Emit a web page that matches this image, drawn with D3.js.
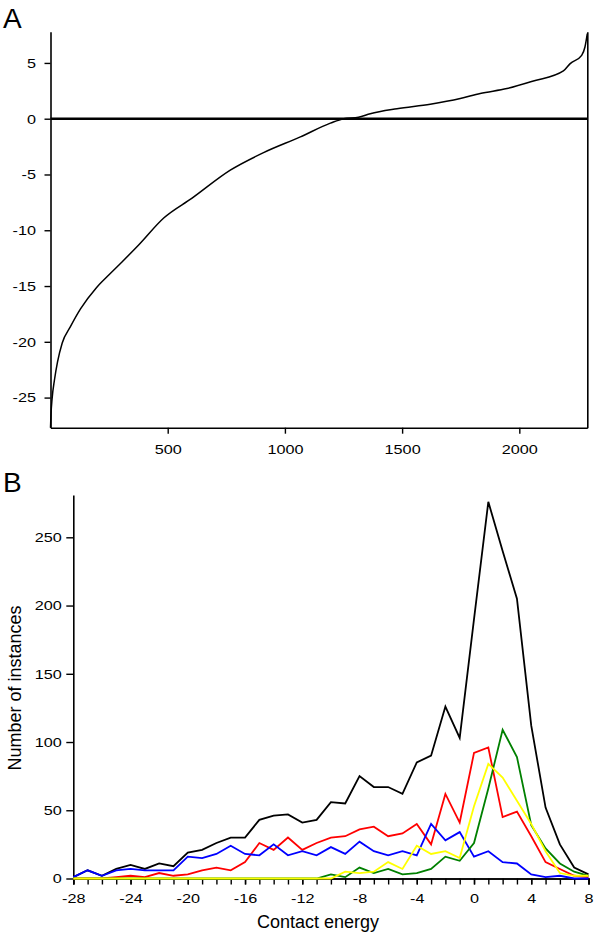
<!DOCTYPE html>
<html>
<head>
<meta charset="utf-8">
<script src="https://cdn.jsdelivr.net/npm/d3@7"></script>
<style>
  body { margin: 0; background: #fff; }
  svg { font-family: "Liberation Sans", Arial, sans-serif; display: block; }
</style>
</head>
<body>
<div id="chart"></div>
<script>

// panel A: sorted contact energies (rank, value)
const rankA = [0, 2, 7, 17, 30, 50, 85, 128, 195, 242, 306, 376, 483, 604, 767, 909, 1066, 1194, 1250, 1314, 1364, 1478, 1620, 1748, 1833, 1947, 2060, 2188, 2217, 2266, 2280, 2290]
const valueA = [-27.7, -26.55, -25.05, -23.4, -21.8, -20.1, -18.64, -17.05, -15.17, -14.15, -12.82, -11.32, -8.9, -7.12, -4.61, -3.04, -1.63, -0.4, 0, 0.13, 0.45, 0.9, 1.3, 1.81, 2.26, 2.7, 3.38, 4.28, 4.94, 5.68, 6.43, 7.63]
const ticksAX = [500, 1000, 1500, 2000]
const ticksAY = [-25, -20, -15, -10, -5, 0, 5]

// panel B: histograms of contact energy
const energy = [-28, -27, -26, -25, -24, -23, -22, -21, -20, -19, -18, -17, -16, -15, -14, -13, -12, -11, -10, -9, -8, -7, -6, -5, -4, -3, -2, -1, 0, 1, 2, 3, 4, 5, 6, 7, 8]
const black = [1, 6, 2, 7, 10, 7, 11, 9, 19, 21, 26, 30, 30, 43, 46, 47, 41, 43, 56, 55, 75, 67, 67, 62, 85, 90, 126, 103, 190, 276, 240, 205, 112, 52, 25, 8, 3]
const red = [0, 0, 0, 1, 2, 1, 4, 2, 3, 6, 8, 6, 12, 26, 21, 30, 21, 26, 30, 31, 36, 38, 31, 33, 40, 25, 62, 41, 92, 96, 45, 49, 31, 12, 7, 2, 1]
const blue = [1, 6, 2, 6, 7, 6, 6, 6, 16, 15, 18, 24, 18, 17, 25, 17, 20, 17, 23, 18, 27, 20, 17, 20, 17, 40, 28, 34, 16, 20, 12, 11, 3, 1, 2, 0, 0]
const green = [0, 0, 0, 0, 0, 0, 0, 0, 0, 0, 0, 0, 0, 0, 0, 0, 0, 0, 3, 1, 8, 4, 7, 3, 4, 7, 16, 13, 26, 66, 109, 89, 39, 22, 11, 5, 2]
const yellow = [0, 0, 0, 0, 0, 0, 0, 0, 0, 0, 0, 0, 0, 0, 0, 0, 0, 0, 0, 5, 4, 5, 12, 7, 24, 18, 20, 15, 53, 84, 74, 57, 40, 20, 4, 2, 2]
const ticksBX = [-28, -24, -20, -16, -12, -8, -4, 0, 4, 8]
const ticksBY = [0, 50, 100, 150, 200, 250]

const series = [
  {values: black, color: '#000000'},
  {values: red, color: '#ff0000'},
  {values: blue, color: '#0000ff'},
  {values: green, color: '#008000'},
  {values: yellow, color: '#ffff00'}
]

let svg = d3.select('#chart').append('svg')
  .attr('width', 600)
  .attr('height', 940)

svg.append('rect').attr('width', 600).attr('height', 940).attr('fill', '#fff')

// plain hyphen minus, no thousands comma
const plain = d => String(d)

// tick labels in the original are a bit wide, so stretch them sideways
function styleAxis(g) {
  g.select('.domain').attr('stroke-width', 1.6)
  g.selectAll('.tick line').attr('stroke-width', 1.4)
  g.selectAll('.tick text')
    .attr('font-size', 13.5)
    .attr('fill', '#000')
    .attr('font-family', '"Liberation Sans", Arial, sans-serif')
    .each(function() {
      let w = this.getComputedTextLength()
      if (w > 0) d3.select(this).attr('textLength', w * 1.2).attr('lengthAdjust', 'spacingAndGlyphs')
    })
}

// ---------- panel A ----------
let xA = d3.scaleLinear().domain([0, 2290]).range([50.5, 587.3])
let yA = d3.scaleLinear().domain([-27.7, 7.8]).range([427.7, 31.7])

svg.append('g')
  .attr('transform', 'translate(0,427.7)')
  .call(d3.axisBottom(xA).tickValues(ticksAX).tickFormat(plain).tickSize(6).tickSizeOuter(0).tickPadding(10.7))
  .call(styleAxis)

svg.append('g')
  .attr('transform', 'translate(50.5,0)')
  .call(d3.axisLeft(yA).tickValues(ticksAY).tickFormat(plain).tickSize(6).tickSizeOuter(0).tickPadding(8.5))
  .call(styleAxis)

svg.append('g')
  .attr('transform', 'translate(587.3,0)')
  .call(d3.axisRight(yA).tickValues([]).tickSizeOuter(0))
  .call(styleAxis)

// zero line
svg.append('line')
  .attr('x1', xA(0)).attr('x2', xA(2290))
  .attr('y1', yA(0)).attr('y2', yA(0))
  .attr('stroke', '#000').attr('stroke-width', 2.6)

let lineA = d3.line()
  .x((d, i) => xA(rankA[i]))
  .y(d => yA(d))
  .curve(d3.curveMonotoneX)

svg.append('path')
  .datum(valueA)
  .attr('d', lineA)
  .attr('fill', 'none')
  .attr('stroke', '#000')
  .attr('stroke-width', 1.5)

svg.append('text').text('A')
  .attr('x', 3).attr('y', 28)
  .attr('font-size', 28)

// ---------- panel B ----------
let xB = d3.scaleLinear().domain([-28, 8]).range([73.3, 588.5])
let yB = d3.scaleLinear().domain([0, 281]).range([878.5, 495])

// minor ticks on every integer
svg.append('g')
  .attr('transform', 'translate(0,878.5)')
  .call(d3.axisBottom(xB).tickValues(energy).tickSize(6).tickFormat(''))
  .call(styleAxis)

svg.append('g')
  .attr('transform', 'translate(0,878.5)')
  .call(d3.axisBottom(xB).tickValues(ticksBX).tickFormat(plain).tickSize(6).tickSizeOuter(0).tickPadding(9.2))
  .call(styleAxis)

svg.append('g')
  .attr('transform', 'translate(73.3,0)')
  .call(d3.axisLeft(yB).tickValues(ticksBY).tickFormat(plain).tickSize(7).tickSizeOuter(0).tickPadding(4.6))
  .call(styleAxis)

let lineB = d3.line()
  .x((d, i) => xB(energy[i]))
  .y(d => yB(d))

svg.selectAll('path.series')
  .data(series)
  .enter()
  .append('path')
  .attr('class', 'series')
  .attr('d', d => lineB(d.values))
  .attr('fill', 'none')
  .attr('stroke', d => d.color)
  .attr('stroke-width', 1.8)

svg.append('text').text('B')
  .attr('x', 3).attr('y', 492)
  .attr('font-size', 28)

svg.append('text').text('Contact energy')
  .attr('x', 318).attr('y', 928)
  .attr('text-anchor', 'middle')
  .attr('font-size', 18)

svg.append('text').text('Number of instances')
  .attr('transform', 'translate(21,688) rotate(-90)')
  .attr('text-anchor', 'middle')
  .attr('font-size', 18)
</script>
</body>
</html>
